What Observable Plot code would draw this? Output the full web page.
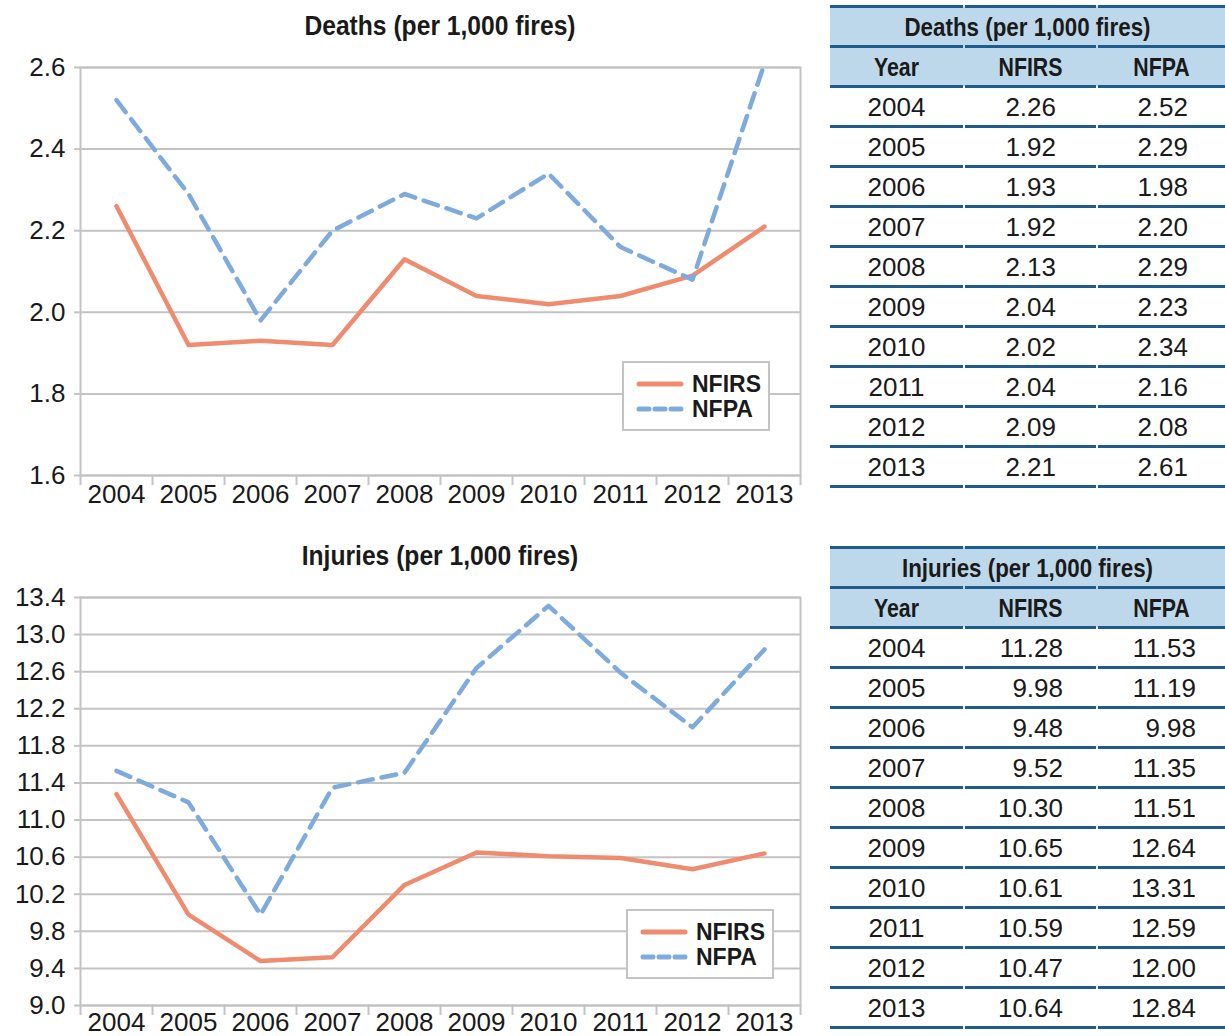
<!DOCTYPE html>
<html><head><meta charset="utf-8">
<script src="https://cdn.jsdelivr.net/npm/d3@7"></script>
<script src="https://cdn.jsdelivr.net/npm/@observablehq/plot@0.6"></script>
<style>
html,body{margin:0;padding:0;background:#fff;}
#page{position:relative;width:1225px;height:1036px;overflow:hidden;background:#fff;font-family:"Liberation Sans",Arial,sans-serif;color:#1a1a1a;}
.ctitle{position:absolute;left:80px;width:720px;text-align:center;font-weight:bold;font-size:28px;color:#1a1a1a;transform:scaleX(0.88);transform-origin:50% 0;}
.chart{position:absolute;left:0;}
.legend{position:absolute;background:#fff;border:2px solid #c3c3c3;box-sizing:border-box;}
.legend .item{position:absolute;left:12px;display:flex;align-items:center;font-weight:bold;font-size:23px;}
.legend svg{margin-right:8px;}
.tbl{position:absolute;left:830px;width:395px;}
.tbl .bg{position:absolute;left:0;width:395px;top:0;height:80px;background:#bdd8ea;}
.tbl .ln{position:absolute;height:3px;background:#1f5b8d;}
.tbl .cell{position:absolute;height:40px;line-height:40px;font-size:26px;}
.tbl .hd{font-weight:bold;font-size:26px;text-align:center;transform:scaleX(0.82);}
.tbl .tt{transform:scaleX(0.86);}
</style></head>
<body><div id="page"></div>
<script>
const years = [2004, 2005, 2006, 2007, 2008, 2009, 2010, 2011, 2012, 2013];
const deathsNFIRS = [2.26, 1.92, 1.93, 1.92, 2.13, 2.04, 2.02, 2.04, 2.09, 2.21];
const deathsNFPA = [2.52, 2.29, 1.98, 2.20, 2.29, 2.23, 2.34, 2.16, 2.08, 2.61];
const injuriesNFIRS = [11.28, 9.98, 9.48, 9.52, 10.30, 10.65, 10.61, 10.59, 10.47, 10.64];
const injuriesNFPA = [11.53, 11.19, 9.98, 11.35, 11.51, 12.64, 13.31, 12.59, 12.00, 12.84];
const deathsTicks = [1.6, 1.8, 2.0, 2.2, 2.4, 2.6];
const injuriesTicks = [9.0, 9.4, 9.8, 10.2, 10.6, 11.0, 11.4, 11.8, 12.2, 12.6, 13.0, 13.4];
const seriesNames = ["NFIRS", "NFPA"];
const deathsTitle = "Deaths (per 1,000 fires)";
const injuriesTitle = "Injuries (per 1,000 fires)";

const COL_NFIRS = "#ef8b6f";
const COL_NFPA = "#7eabdc";
const GRID = "#c3c3c3";
const DASH = "15,9";

const page = document.getElementById("page");

function makeChart(cfg) {
  const rowsA = years.map((y, i) => ({year: y, value: cfg.a[i]}));
  const rowsB = years.map((y, i) => ({year: y, value: cfg.b[i]}));
  const bounds = years.map(y => y - 0.5).concat([years[years.length - 1] + 0.5]);
  const t = document.createElement("div");
  t.className = "ctitle";
  t.style.top = cfg.titleTop + "px";
  t.textContent = cfg.title;
  page.appendChild(t);
  const svg = Plot.plot({
    width: 820, height: cfg.height,
    marginLeft: 80, marginRight: 20, marginTop: 17, marginBottom: cfg.mb,
    x: {type: "linear", domain: [bounds[0], bounds[bounds.length - 1]]},
    y: {domain: [cfg.ticks[0], cfg.ticks[cfg.ticks.length - 1]]},
    style: {fontFamily: "'Liberation Sans', Arial, sans-serif", color: "#1a1a1a", background: "transparent", overflow: "visible"},
    marks: [
      Plot.gridY(cfg.ticks, {stroke: GRID, strokeOpacity: 1, strokeWidth: 2}),
      Plot.frame({stroke: GRID, strokeWidth: 2}),
      Plot.axisY(cfg.ticks, {tickSize: 6, stroke: GRID, strokeWidth: 2, strokeOpacity: 1, tickFormat: () => "", label: null}),
      Plot.axisY(cfg.ticks, {tickSize: 0, tickPadding: 15, fontSize: 26, tickFormat: d => d.toFixed(1), label: null}),
      Plot.axisX(bounds, {tickSize: 10, stroke: GRID, strokeWidth: 2, strokeOpacity: 1, tickFormat: () => "", label: null}),
      Plot.axisX(years, {tickSize: 0, tickPadding: cfg.xpad, fontSize: 26, tickFormat: d => String(d), label: null}),
      Plot.lineY(rowsA, {x: "year", y: "value", stroke: COL_NFIRS, strokeWidth: 4.5, strokeLinejoin: "round", strokeLinecap: "round"}),
      Plot.lineY(rowsB, {x: "year", y: "value", stroke: COL_NFPA, strokeWidth: 4.5, strokeDasharray: DASH, strokeLinejoin: "round", strokeLinecap: "round"})
    ]
  });
  svg.classList.add("chart");
  svg.style.position = "absolute";
  svg.style.top = cfg.svgTop + "px";
  svg.style.left = "0px";
  page.appendChild(svg);

  const lg = document.createElement("div");
  lg.className = "legend";
  lg.style.left = cfg.lg[0] + "px"; lg.style.top = cfg.lg[1] + "px";
  lg.style.width = cfg.lg[2] + "px"; lg.style.height = cfg.lg[3] + "px";
  seriesNames.forEach((name, i) => {
    const it = document.createElement("div");
    it.className = "item";
    it.style.top = (i === 0 ? 6 : 31) + "px";
    it.style.height = "30px";
    const col = i === 0 ? COL_NFIRS : COL_NFPA;
    const dash = i === 0 ? "" : ` stroke-dasharray="10,6"`;
    it.innerHTML = `<svg width="48" height="10"><line x1="3" y1="5" x2="45" y2="5" stroke="${col}" stroke-width="5" stroke-linecap="round"${dash}/></svg><span>${name}</span>`;
    lg.appendChild(it);
  });
  page.appendChild(lg);
}

makeChart({title: deathsTitle, titleTop: 10, svgTop: 50, height: 480, mb: 55, xpad: 9,
  a: deathsNFIRS, b: deathsNFPA, ticks: deathsTicks, lg: [622, 361, 148, 70]});
makeChart({title: injuriesTitle, titleTop: 540, svgTop: 580, height: 456, mb: 31, xpad: 7,
  a: injuriesNFIRS, b: injuriesNFPA, ticks: injuriesTicks, lg: [626, 909, 148, 70]});

function makeTable(cfg) {
  const tb = document.createElement("div");
  tb.className = "tbl";
  tb.style.top = cfg.top + "px";
  const cols = [[0, 133], [135, 131], [268, 127]];
  let html = `<div class="bg"></div>`;
  for (let r = 0; r <= years.length + 2; r++) {
    cols.forEach(c => { html += `<div class="ln" style="top:${r * 40 - 1}px;left:${c[0]}px;width:${c[1]}px"></div>`; });
  }
  html += `<div class="cell hd tt" style="top:1px;left:0;width:395px;font-size:26px">${cfg.title}</div>`;
  const heads = ["Year"].concat(seriesNames);
  heads.forEach((h, i) => { html += `<div class="cell hd" style="top:41px;left:${cols[i][0]}px;width:${cols[i][1]}px">${h}</div>`; });
  years.forEach((y, r) => {
    const top = 81 + r * 40;
    html += `<div class="cell" style="top:${top}px;left:0;width:133px;text-align:center">${y}</div>`;
    html += `<div class="cell" style="top:${top}px;left:135px;width:${131 - cfg.padA}px;text-align:right">${cfg.a[r].toFixed(2)}</div>`;
    html += `<div class="cell" style="top:${top}px;left:268px;width:${127 - cfg.padB}px;text-align:right">${cfg.b[r].toFixed(2)}</div>`;
  });
  tb.innerHTML = html;
  page.appendChild(tb);
}
makeTable({top: 6, title: deathsTitle, a: deathsNFIRS, b: deathsNFPA, padA: 40, padB: 37});
makeTable({top: 547, title: injuriesTitle, a: injuriesNFIRS, b: injuriesNFPA, padA: 33, padB: 29});
</script></body></html>
